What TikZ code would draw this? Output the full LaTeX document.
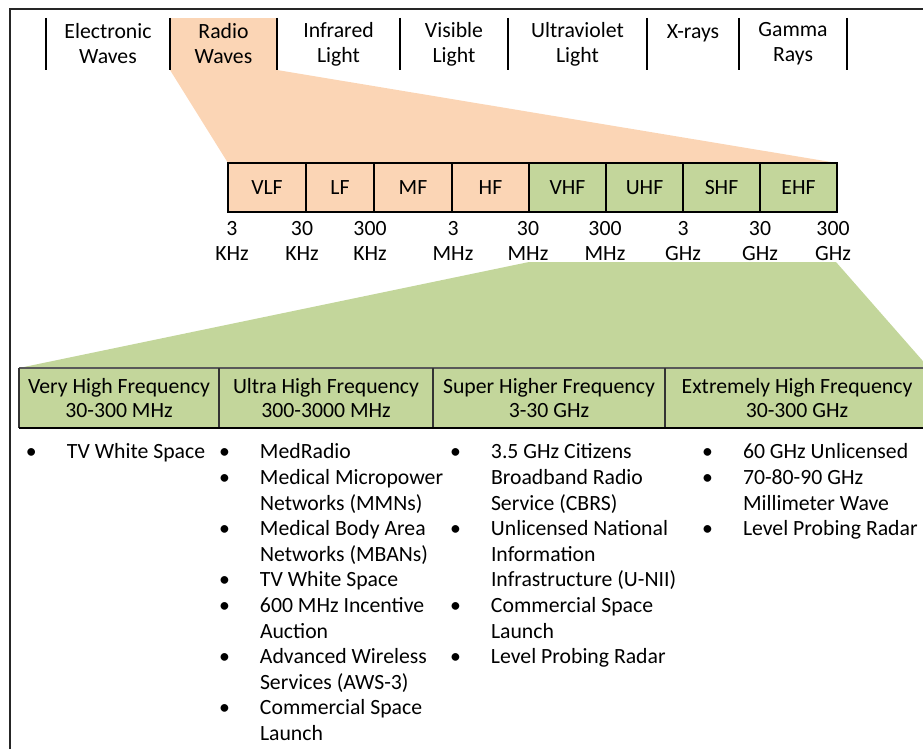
\documentclass[tikz,border=0pt]{standalone}
\usepackage{fontspec}
\setmainfont{Carlito}
\usetikzlibrary{positioning,backgrounds}
\definecolor{rwpeach}{HTML}{FBD5B5}
\definecolor{rwgreen}{HTML}{C3D69B}
\newcommand{\bandfont}{\fontsize{16.3pt}{18.8pt}\selectfont}
\newcommand{\hdrfont}{\fontsize{16.3pt}{17.3pt}\selectfont}
\newcommand{\lstfont}{\fontsize{16.3pt}{19.2pt}\selectfont}

\begin{document}
\begin{tikzpicture}[x=0.75pt, y=-0.75pt,
  every node/.style={inner sep=0pt, outer sep=0pt, font=\bandfont},
  tab/.style={minimum height=39pt, align=center},
  band/.style={draw, line width=1.1pt, minimum height=36.75pt, fill=rwpeach},
  freq/.style={align=center},
  hdr/.style={minimum height=45pt, fill=rwgreen, align=center, font=\hdrfont},
  lst/.style={anchor=north west, font=\lstfont},
  sep/.style={line width=1.1pt},
  frame/.style={line width=1.2pt, black!85}]
\useasboundingbox (0,0) rectangle (923,749);

% Spectrum tabs
\node[tab, minimum width=93pt, anchor=north west] (elec) at (46,18) {Electronic\\Waves};
\node[tab, minimum width=80.25pt, fill=rwpeach, right=0pt of elec] (radio) {Radio\\Waves};
\node[tab, minimum width=92.25pt, right=0pt of radio] (infra) {Infrared\\Light};
\node[tab, minimum width=81pt, right=0pt of infra] (vis) {Visible\\Light};
\node[tab, minimum width=104.25pt, right=0pt of vis] (uv) {Ultraviolet\\Light};
\node[tab, minimum width=69pt, right=0pt of uv] (xray) {X-rays\\\phantom{Waves}};
\node[tab, minimum width=81pt, right=0pt of xray] (gamma) {Gamma\\Rays};

% Tab separators
\draw[sep] (elec.north west) -- (elec.south west);
\draw[sep] (elec.north east) -- (elec.south east);
\draw[sep] (radio.north east) -- (radio.south east);
\draw[sep] (infra.north east) -- (infra.south east);
\draw[sep] (vis.north east) -- (vis.south east);
\draw[sep] (uv.north east) -- (uv.south east);
\draw[sep] (xray.north east) -- (xray.south east);
\draw[sep] (gamma.north east) -- (gamma.south east);

% Radio bands
\node[band, minimum width=58.5pt, anchor=north west] (vlf) at (228,163) {VLF};
\node[band, minimum width=51pt, right=0pt of vlf] (lf) {LF};
\node[band, minimum width=58.5pt, right=0pt of lf] (mf) {MF};
\node[band, minimum width=57.75pt, right=0pt of mf] (hf) {HF};
\node[band, minimum width=57.75pt, fill=rwgreen, right=0pt of hf] (vhf) {VHF};
\node[band, minimum width=57.75pt, fill=rwgreen, right=0pt of vhf] (uhf) {UHF};
\node[band, minimum width=57.75pt, fill=rwgreen, right=0pt of uhf] (shf) {SHF};
\node[band, minimum width=57.75pt, fill=rwgreen, right=0pt of shf] (ehf) {EHF};

% Band edges
\node[freq] (f3k) at (232,241) {3\\KHz};
\node[freq] (f30k) at (302,241) {30\\KHz};
\node[freq] (f300k) at (370,241) {300\\KHz};
\node[freq] (f3m) at (453,241) {3\\MHz};
\node[freq] (f30m) at (528,241) {30\\MHz};
\node[freq] (f300m) at (605,241) {300\\MHz};
\node[freq] (f3g) at (683,241) {3\\GHz};
\node[freq] (f30g) at (760,241) {30\\GHz};
\node[freq] (f300g) at (833,241) {300\\GHz};

% Table header
\node[hdr, minimum width=150pt, anchor=north west] (vhfcol) at (19,368) {Very High Frequency\\30-300 MHz};
\node[hdr, minimum width=160.5pt, right=0pt of vhfcol] (uhfcol) {Ultra High Frequency\\300-3000 MHz};
\node[hdr, minimum width=174pt, right=0pt of uhfcol] (shfcol) {Super Higher Frequency\\3-30 GHz};
\node[hdr, minimum width=198pt, right=0pt of shfcol] (ehfcol) {Extremely High Frequency\\30-300 GHz};
\draw[line width=1pt, black!65] (vhfcol.north west) -- (ehfcol.north east);
\draw[line width=1pt, black!80] (vhfcol.north west) -- (vhfcol.south west);
\draw[line width=1pt, black!80] (vhfcol.north east) -- (vhfcol.south east);
\draw[line width=1pt, black!80] (uhfcol.north east) -- (uhfcol.south east);
\draw[line width=1pt, black!80] (shfcol.north east) -- (shfcol.south east);
\draw[line width=1.7pt] (vhfcol.south west) -- (ehfcol.south east);

% Zoom wedges
\coordinate (gl) at (529,262);
\coordinate (gr) at (836,262);
\begin{scope}[on background layer]
\fill[rwpeach] (radio.south west) -- (radio.south east) -- (ehf.north east) -- (vlf.north west) -- cycle;
\fill[rwgreen] (gl) -- (gr) -- (ehfcol.north east) -- (vhfcol.north west) -- cycle;
\end{scope}

% Uses
\node[lst] (vhflist) at (26,441) {\begin{tabular}{@{}p{30.75pt}@{}l@{}}
\textbullet & TV White Space
\end{tabular}};
\node[lst] (uhflist) at (219,441) {\begin{tabular}{@{}p{30.75pt}@{}l@{}}
\textbullet & MedRadio\\
\textbullet & Medical Micropower\\
 & Networks (MMNs)\\
\textbullet & Medical Body Area\\
 & Networks (MBANs)\\
\textbullet & TV White Space\\
\textbullet & 600 MHz Incentive\\
 & Auction\\
\textbullet & Advanced Wireless\\
 & Services (AWS-3)\\
\textbullet & Commercial Space\\
 & Launch
\end{tabular}};
\node[lst] (shflist) at (450,441) {\begin{tabular}{@{}p{30.75pt}@{}l@{}}
\textbullet & 3.5 GHz Citizens\\
 & Broadband Radio\\
 & Service (CBRS)\\
\textbullet & Unlicensed National\\
 & Information\\
 & Infrastructure (U-NII)\\
\textbullet & Commercial Space\\
 & Launch\\
\textbullet & Level Probing Radar
\end{tabular}};
\node[lst] (ehflist) at (702,441) {\begin{tabular}{@{}p{30.75pt}@{}l@{}}
\textbullet & 60 GHz Unlicensed\\
\textbullet & 70-80-90 GHz\\
 & Millimeter Wave\\
\textbullet & Level Probing Radar
\end{tabular}};

% Frame
\draw[frame] (10,749) -- (10,9) -- (923,9);
\end{tikzpicture}
\end{document}
